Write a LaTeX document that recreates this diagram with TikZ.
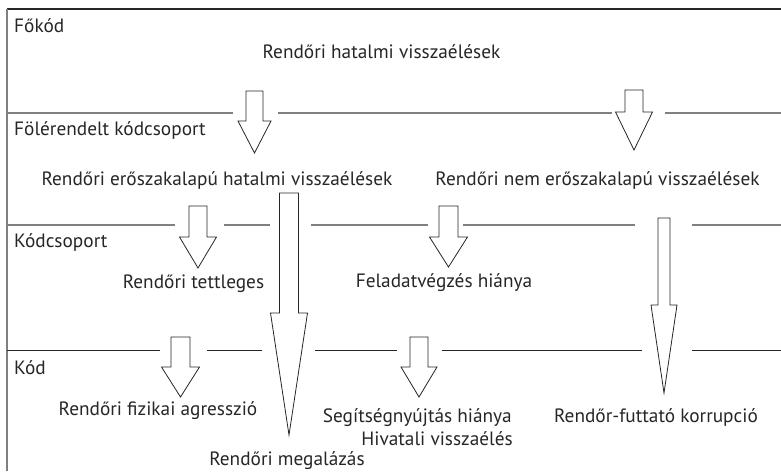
\documentclass[tikz,border=0pt]{standalone}
\usepackage{fontspec}
\setmainfont{PT Sans}
\newcommand{\blkarrow}[6]{%
  \draw[arrowshape] ({#1-#5},#2) -- ({#1+#5},#2) -- ({#1+#5},#3) -- ({#1+#6},#3)
    -- (#1,#4) -- ({#1-#6},#3) -- ({#1-#5},#3) -- cycle;}
\begin{document}
\begin{tikzpicture}[x=1pt,y=-1pt,
  lbl/.style={inner sep=0pt,font=\fontsize{19.3}{22}\selectfont,text=black!85},
  greyline/.style={draw=black!50,line width=1.6pt},
  thinline/.style={draw=black!85,line width=1pt},
  arrowshape/.style={draw=black!85,line width=0.8pt,fill=white,line join=miter}]
\useasboundingbox (0,0) rectangle (781,471);
% frame
\draw[draw=black!85,line width=1.5pt] (7,9) -- (781,9);
\draw[greyline] (7,9) -- (7,471);
% level lines
\draw[greyline] (7,113) -- (233,113);
\draw[greyline] (278,113) -- (612,113);
\draw[greyline] (665,113) -- (781,113);
\draw[greyline] (7,225) -- (175,225);
\draw[greyline] (224,225) -- (270,225);
\draw[greyline] (311,225) -- (428,225);
\draw[greyline] (463,225) -- (635,225);
\draw[greyline] (692,225) -- (781,225);
\draw[thinline] (7,350) -- (160,350);
\draw[thinline] (207,350) -- (262,350);
\draw[thinline] (315,350) -- (397,350);
\draw[thinline] (442,350) -- (642,350);
\draw[thinline] (692,350) -- (781,350);
% arrows
\blkarrow{254.5}{91}{121}{153}{8.5}{16.5}
\blkarrow{634}{90}{112}{150}{9}{18.5}
\blkarrow{198}{206}{237}{268}{9}{18.5}
\blkarrow{448.5}{206}{237}{267}{9.5}{19}
\blkarrow{664}{218}{305}{393}{6}{13}
\blkarrow{180.5}{337}{367}{397}{9.5}{19}
\blkarrow{419}{337}{367}{397}{9}{18}
\blkarrow{289}{193}{313}{435}{9.5}{18.5}
% labels
\node[lbl,anchor=base west] (fokod) at (14,32) {Főkód};
\node[lbl,anchor=base west] (folerendelt) at (14,135) {Fölérendelt kódcsoport};
\node[lbl,anchor=base west] (kodcsoport) at (14,247) {Kódcsoport};
\node[lbl,anchor=base west] (kod) at (14,374) {Kód};
\node[lbl,anchor=base] (hatalmi) at (381.5,58) {Rendőri hatalmi visszaélések};
\node[lbl,anchor=base] (eroszak) at (217,185) {Rendőri erőszakalapú hatalmi visszaélések};
\node[lbl,anchor=base] (nemeroszak) at (597.5,185) {Rendőri nem erőszakalapú visszaélések};
\node[lbl,anchor=base] (tettleges) at (193.5,288) {Rendőri tettleges};
\node[lbl,anchor=base] (feladat) at (444,287) {Feladatvégzés hiánya};
\node[lbl,anchor=base] (fizikai) at (158,415) {Rendőri fizikai agresszió};
\node[lbl,anchor=base east] (segitseg) at (512,422) {Segítségnyújtás hiánya};
\node[lbl,anchor=base east] (hivatali) at (513,445) {Hivatali visszaélés};
\node[lbl,anchor=base] (futtato) at (656,422) {Rendőr-futtató korrupció};
\node[lbl,anchor=base] (megalazas) at (287,465) {Rendőri megalázás};
\end{tikzpicture}
\end{document}
